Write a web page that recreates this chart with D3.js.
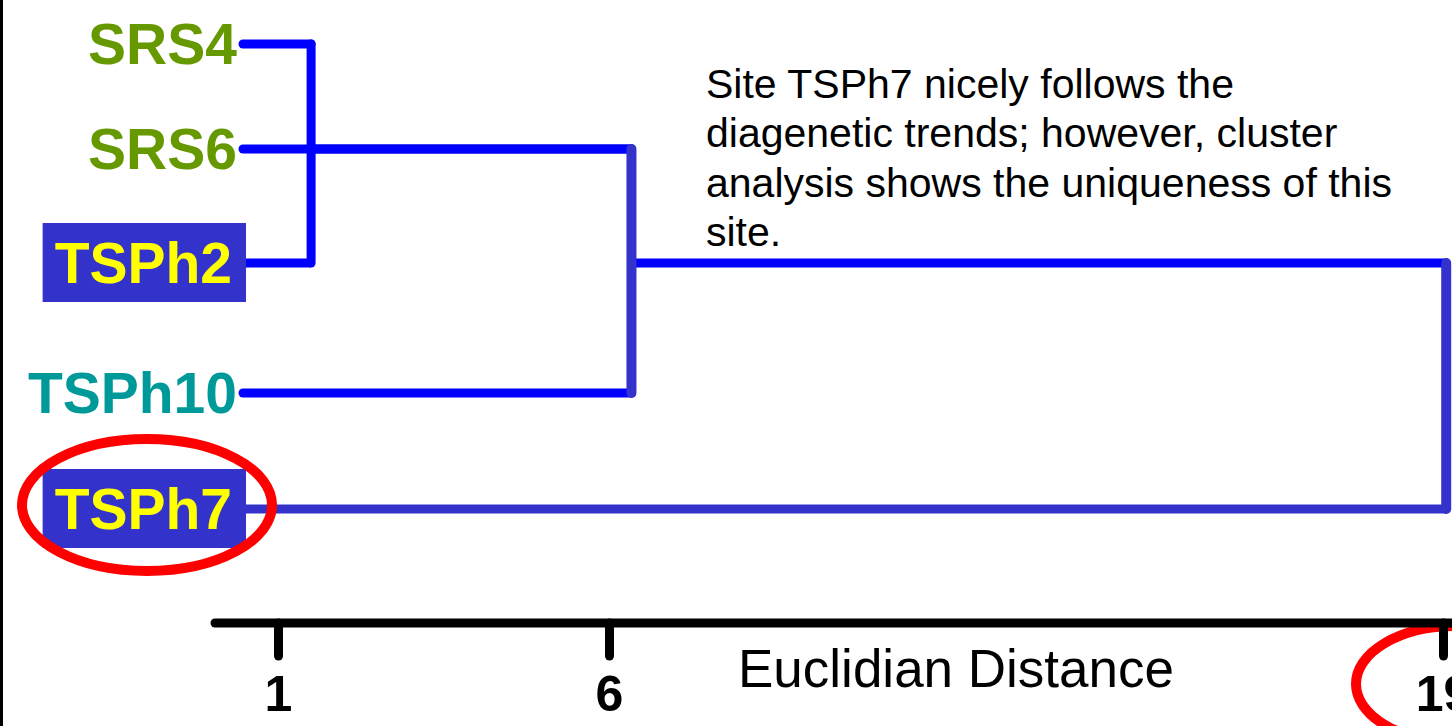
<!DOCTYPE html>
<html>
  <head>
    <meta charset="utf-8">
    <title>Euclidian Distance dendrogram</title>
    <script src="https://cdn.jsdelivr.net/npm/d3@7/dist/d3.min.js"></script>
    <style>
      body { margin: 0; background: #fff; }
      svg { display: block; font-family: "Liberation Sans", Arial, sans-serif; }
    </style>
  </head>
  <body>
    <svg width="1452" height="726"></svg>
    <script>
      // leaves, top to bottom
      const leaves = ['SRS4', 'SRS6', 'TSPh2', 'TSPh10', 'TSPh7']
      const leafType = ['srs', 'srs', 'boxed', 'tsph', 'boxed']
      // distance at which each leaf branch ends
      const leafJoin = [1.5, 6.35, 1.5, 6.35, 19.05]

      // merges: distance, upper row, lower row, row of outgoing branch
      const mergeDist = [1.5, 6.35, 19.05]
      const mergeTop = [0, 1, 2]
      const mergeBottom = [2, 3, 4]
      const mergeOut = [1, 2, null]

      const axisTicks = [1, 6, 19]
      const axisTitle = 'Euclidian Distance'
      const note = [
        'Site TSPh7 nicely follows the',
        'diagenetic trends; however, cluster',
        'analysis shows the uniqueness of this',
        'site.'
      ]

      const blue = '#0000ff'
      const darkBlue = '#3333cc'
      const textColor = { srs: '#669900', tsph: '#009999', boxed: '#ffff00' }

      const svg = d3.select('svg')
      const height = +svg.attr('height')

      // x is a dendrogram distance scale (not quite linear in the original)
      const x = d3.scaleLinear().domain([1, 6, 19]).range([278, 609, 1443])
      const y = d3.scaleLinear().domain([0, 1, 2, 3, 4]).range([44, 149, 263, 393, 509])
      const axisY = 623

      // black frame edge on the left
      svg.append('rect').attr('x', 0).attr('y', 0).attr('width', 3).attr('height', height).attr('fill', '#000')

      // red highlight round the "19"
      svg.append('ellipse')
        .attr('cx', x(19) + 12).attr('cy', 684)
        .attr('rx', 99).attr('ry', 58)
        .attr('fill', 'none').attr('stroke', '#ff0000').attr('stroke-width', 10)

      // axis
      const axis = d3.axisBottom(x).tickValues(axisTicks).tickSize(33).tickSizeOuter(0).tickFormat(d3.format('d'))
      const gAxis = svg.append('g').attr('transform', `translate(0,${axisY})`).call(axis)
      gAxis.select('.domain').remove()
      gAxis.append('line')
        .attr('x1', 215).attr('x2', 1470).attr('y1', 0).attr('y2', 0)
        .attr('stroke', '#000').attr('stroke-width', 9).attr('stroke-linecap', 'round')
      gAxis.selectAll('.tick line')
        .attr('stroke', '#000').attr('stroke-width', 9).attr('stroke-linecap', 'round')
      gAxis.selectAll('.tick text')
        .attr('y', 88).attr('dy', 0)
        .attr('fill', '#000')
        .style('font-size', '50px').style('font-weight', 'bold')
        .style('font-family', '"Liberation Sans", Arial, sans-serif')

      svg.append('text')
        .attr('x', 738).attr('y', 687)
        .attr('font-size', 53).attr('fill', '#000')
        .text(axisTitle)

      // note text
      svg.append('g').selectAll('text').data(note).enter().append('text')
        .attr('x', 706).attr('y', (d, i) => 98 + i * 49.3)
        .attr('font-size', 41).attr('fill', '#000')
        .text((d) => d)

      // branches
      const links = svg.append('g').attr('stroke-linecap', 'round').attr('fill', 'none')

      // merge outgoing branches
      mergeDist.forEach((d, i) => {
        if (mergeOut[i] === null) return
        links.append('line')
          .attr('x1', x(d)).attr('x2', x(mergeDist[i + 1]))
          .attr('y1', y(mergeOut[i])).attr('y2', y(mergeOut[i]))
          .attr('stroke', blue).attr('stroke-width', 9)
      })

      // leaf branches
      leaves.forEach((name, i) => {
        const boxed = leafType[i] === 'boxed'
        links.append('line')
          .attr('x1', boxed ? 246 : 243).attr('x2', x(leafJoin[i]))
          .attr('y1', y(i)).attr('y2', y(i))
          .attr('stroke', name === 'TSPh7' ? darkBlue : blue)
          .attr('stroke-width', 9)
          .attr('stroke-linecap', boxed ? 'butt' : 'round')
      })

      // verticals
      mergeDist.forEach((d, i) => {
        links.append('line')
          .attr('x1', x(d)).attr('x2', x(d))
          .attr('y1', y(mergeTop[i])).attr('y2', y(mergeBottom[i]))
          .attr('stroke', i === 0 ? blue : darkBlue)
          .attr('stroke-width', i === 0 ? 9 : 10)
      })

      // leaf labels
      const labels = svg.append('g')
      leaves.forEach((name, i) => {
        const boxed = leafType[i] === 'boxed'
        const g = labels.append('g')
        const t = g.append('text')
          .attr('x', boxed ? 232 : 237).attr('y', y(i) + 20)
          .attr('text-anchor', 'end')
          .attr('font-size', 57).attr('font-weight', 'bold')
          .attr('fill', textColor[leafType[i]])
          .text(name)
        if (boxed) {
          const bb = t.node().getBBox()
          g.insert('rect', 'text')
            .attr('x', bb.x - 12).attr('y', y(i) - 40)
            .attr('width', 246 - (bb.x - 12)).attr('height', 79)
            .attr('fill', darkBlue)
        }
      })

      // red highlight round TSPh7
      svg.append('ellipse')
        .attr('cx', 147).attr('cy', 505)
        .attr('rx', 125).attr('ry', 66)
        .attr('fill', 'none').attr('stroke', '#ff0000').attr('stroke-width', 10)
    </script>
  </body>
</html>
